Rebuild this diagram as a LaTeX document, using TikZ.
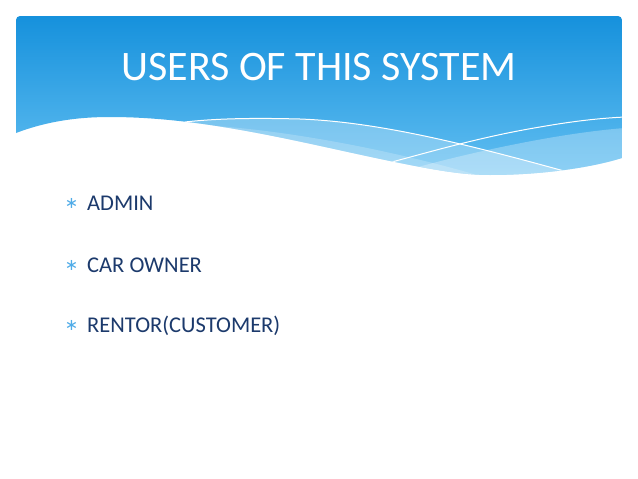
\documentclass[tikz,border=0pt]{standalone}
\usepackage{fontspec}
\setmainfont{Carlito}
\newfontfamily\symfont{DejaVu Sans}
\definecolor{hdrtop}{RGB}{22,145,220}
\definecolor{hdrbot}{RGB}{100,192,242}
\definecolor{navy}{RGB}{28,58,108}
\definecolor{bulletblue}{RGB}{80,172,232}
\tikzset{
  titletext/.style={text=white,font=\fontsize{42}{48}\selectfont,inner sep=0pt},
  itemtext/.style={text=navy,font=\fontsize{22.5}{27}\selectfont,inner sep=0pt,anchor=base west},
  bulletmark/.style={text=bulletblue,font=\symfont\fontsize{16}{19}\selectfont,inner sep=0pt},
  waveline/.style={draw=white,line width=1pt}
}
\begin{document}
\begin{tikzpicture}[x=1pt,y=-1pt]
\useasboundingbox (0,0) rectangle (638,479);
\fill[white] (0,0) rectangle (638,479);
\begin{scope}
  \clip (0,0) -- (0,133) -- (16,133) .. controls (45,122) and (75,117) .. (110,117)
        .. controls (210,117) and (310,145) .. (400,163)
        .. controls (440,171) and (465,175) .. (490,175)
        .. controls (540,175) and (590,168) .. (622,158) -- (638,158) -- (638,0) -- cycle;
  \clip[rounded corners=4pt] (16,16) rectangle (622,200);
  \shade[top color=hdrtop,bottom color=hdrbot] (16,16) rectangle (622,180);
  % band below white line 1
  \fill[white,opacity=0.28] (185,122) .. controls (220,118) and (260,118) .. (300,119)
        .. controls (380,122) and (470,145) .. (575,174) -- (575,200) -- (185,200) -- cycle;
  \fill[white,opacity=0.2] (200,125) .. controls (280,129) and (400,150) .. (510,185)
        -- (510,200) -- (200,200) -- cycle;
  % band on the right
  \fill[white,opacity=0.28] (400,172) .. controls (470,152) and (560,133) .. (625,128)
        -- (625,200) -- (400,200) -- cycle;
  % white lines
  \draw[waveline] (185,122) .. controls (220,118) and (260,118) .. (300,119)
        .. controls (380,122) and (470,145) .. (575,174);
  \draw[waveline] (388,163) .. controls (430,152) and (480,137) .. (540,127)
        .. controls (580,120) and (605,118) .. (625,117);
\end{scope}
\node[titletext,anchor=base] (title) at (319,80) {USERS OF THIS SYSTEM};
\node[bulletmark] (b1) at (71.5,203.5) {∗};
\node[itemtext] (i1) at (87,210) {ADMIN};
\node[bulletmark] (b2) at (71.5,265.5) {∗};
\node[itemtext] (i2) at (87,272) {CAR OWNER};
\node[bulletmark] (b3) at (71.5,325.5) {∗};
\node[itemtext] (i3) at (87,332) {RENTOR(CUSTOMER)};
\end{tikzpicture}
\end{document}
